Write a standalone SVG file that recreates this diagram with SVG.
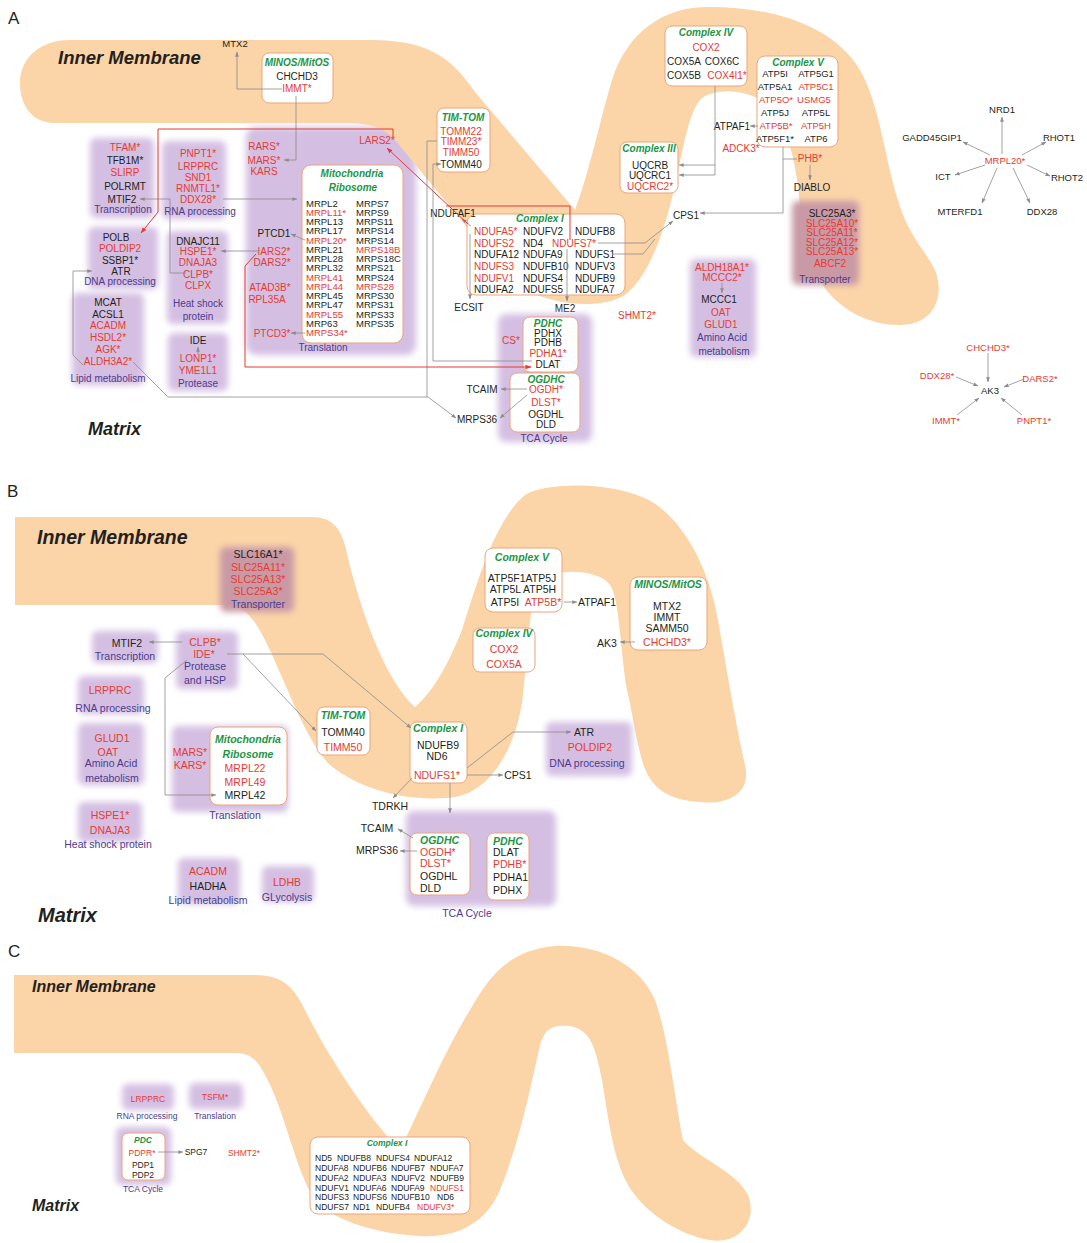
<svg xmlns="http://www.w3.org/2000/svg" width="1087" height="1243" viewBox="0 0 1087 1243">
<style>
text{font-family:"Liberation Sans",Arial,sans-serif;font-size:10px}
.k{fill:#231f20}.r{fill:#e63b33}.p{fill:#4b3c8e}
.g{fill:#1c9645;font-weight:bold;font-style:italic}
.m{text-anchor:middle}
.s9 text,text.s9{font-size:9px}
.s95 text,text.s95{font-size:9.5px}
.s105 text,text.s105{font-size:10.5px}
.s85 text,text.s85{font-size:8.5px}
text.t10{font-size:10px}
text.big{font-weight:bold;font-style:italic;fill:#231f20}
text.lab{font-size:17px;fill:#231f20}
.band{fill:#fbd4a8}
.box{fill:#fff;stroke:#eda57a;stroke-width:1}
.pg{fill:#d4bfe2;filter:url(#bl)}
.tg{fill:#c99aa6;filter:url(#bl)}
.ln{fill:none;stroke:#8c8c8c;stroke-width:0.8;marker-end:url(#ag)}
.ln0{fill:none;stroke:#8c8c8c;stroke-width:0.8}
.rl{fill:none;stroke:#e63b33;stroke-width:1;marker-end:url(#ar)}
.rl0{fill:none;stroke:#e63b33;stroke-width:1}
</style>
<defs>
<filter id="bl" x="-20%" y="-20%" width="140%" height="140%"><feGaussianBlur stdDeviation="3"/></filter>
<marker id="ag" viewBox="0 0 8 8" refX="7.5" refY="4" markerWidth="5" markerHeight="5" markerUnits="userSpaceOnUse" orient="auto"><path d="M0,1 L8,4 L0,7 Z" fill="#8c8c8c"/></marker>
<marker id="ar" viewBox="0 0 8 8" refX="7.5" refY="4" markerWidth="6" markerHeight="6" markerUnits="userSpaceOnUse" orient="auto"><path d="M0,1 L8,4 L0,7 Z" fill="#e63b33"/></marker>
</defs>
<rect width="1087" height="1243" fill="#fff"/>

<!-- ============ PANEL A ============ -->
<g id="a-translation-bg"><rect class="pg" x="246" y="127" width="170" height="228" rx="10"/></g>
<g id="a-membrane"><path class="band" d="M70,40 L370,40 C425,40 450,55 475,92 L575,210 C590,170 600,120 612,80 C628,30 665,8 705,7 C760,6 830,20 860,70 C880,105 885,160 898,200 C908,235 925,250 935,270 C945,295 935,325 900,325 C870,325 845,312 828,292 C810,270 803,240 800,205 C797,170 790,125 765,103 C745,88 712,88 700,100 C688,115 683,150 675,185 C665,230 650,275 625,295 C600,310 555,305 525,290 C500,278 480,245 465,225 L395,140 C385,128 370,123 345,123 L55,123 C30,123 20,103 20,83 C20,58 40,40 70,40 Z"/></g>
<text class="lab" x="8" y="24">A</text>
<text class="big" x="58" y="64" style="font-size:18.5px">Inner Membrane</text>
<text class="big" x="88" y="435" style="font-size:18px">Matrix</text>

<g id="a-transcription">
<rect class="pg" x="90" y="138" width="64" height="80" rx="6"/>
<text class="r m" x="125" y="151">TFAM*</text><text class="k m" x="125" y="164">TFB1M*</text><text class="r m" x="125" y="176">SLIRP</text><text class="k m" x="125" y="189.5">POLRMT</text><text class="k m" x="122" y="202.5">MTIF2</text><text class="p m" x="123" y="213">Transcription</text>
</g>
<g id="a-rna">
<rect class="pg" x="162" y="141" width="64" height="78" rx="6"/>
<text class="r m" x="198" y="156.5">PNPT1*</text><text class="r m" x="198" y="169.5">LRPPRC</text><text class="r m" x="198" y="180.5">SND1</text><text class="r m" x="198" y="191.5">RNMTL1*</text><text class="r m" x="198" y="202.5">DDX28*</text><text class="p m" x="200" y="214.5">RNA processing</text>
</g>
<g id="a-dna">
<rect class="pg" x="88" y="227" width="70" height="62" rx="6"/>
<text class="k m" x="116" y="240.5">POLB</text><text class="r m" x="120" y="251.5">POLDIP2</text><text class="k m" x="120" y="263.5">SSBP1*</text><text class="k m" x="121" y="274.5">ATR</text><text class="p m" x="120" y="285">DNA processing</text>
</g>
<g id="a-hsp">
<rect class="pg" x="167" y="231" width="61" height="93" rx="6"/>
<text class="k m" x="198" y="245">DNAJC11</text><text class="r m" x="198" y="255">HSPE1*</text><text class="r m" x="198" y="266">DNAJA3</text><text class="r m" x="198" y="277.5">CLPB*</text><text class="r m" x="198" y="289">CLPX</text><text class="p m" x="198" y="307">Heat shock</text><text class="p m" x="198" y="320">protein</text>
</g>
<g id="a-lipid">
<rect class="pg" x="72" y="293" width="72" height="92" rx="6"/>
<text class="k m" x="108" y="306">MCAT</text><text class="k m" x="108" y="317.5">ACSL1</text><text class="r m" x="108" y="329">ACADM</text><text class="r m" x="108" y="341">HSDL2*</text><text class="r m" x="108" y="353">AGK*</text><text class="r m" x="108" y="364.5">ALDH3A2*</text><text class="p m" x="108" y="382">Lipid metabolism</text>
</g>
<g id="a-protease">
<rect class="pg" x="168" y="333" width="60" height="58" rx="6"/>
<text class="k m" x="198" y="343.5">IDE</text><text class="r m" x="198" y="362">LONP1*</text><text class="r m" x="198" y="373.5">YME1L1</text><text class="p m" x="198" y="387">Protease</text>
</g>
<g id="a-translation">
<text class="r m" x="264" y="150">RARS*</text><text class="r m" x="264" y="163.5">MARS*</text><text class="r m" x="264" y="175">KARS</text>
<text class="k m" x="274" y="236.5">PTCD1</text><text class="r m" x="274" y="254.5">IARS2*</text><text class="r m" x="272" y="265.5">DARS2*</text><text class="r m" x="270" y="290.5">ATAD3B*</text><text class="r m" x="267" y="302.5">RPL35A</text><text class="r m" x="272" y="336.5">PTCD3*</text>
<text class="r m" x="377" y="143.5">LARS2*</text>
<text class="p m" x="323" y="351">Translation</text>
</g>
<g id="a-ribosome">
<rect class="box" x="302" y="165" width="101" height="178" rx="9"/>
<text class="g m" x="352" y="177">Mitochondria</text><text class="g m" x="353" y="190.5">Ribosome</text>
<g class="s95">
<text class="k" x="306" y="206.6">MRPL2</text><text class="r" x="306" y="215.8">MRPL11*</text><text class="k" x="306" y="225.1">MRPL13</text><text class="k" x="306" y="234.3">MRPL17</text><text class="r" x="306" y="243.6">MRPL20*</text><text class="k" x="306" y="252.8">MRPL21</text><text class="k" x="306" y="262">MRPL28</text><text class="k" x="306" y="271.3">MRPL32</text><text class="r" x="306" y="280.5">MRPL41</text><text class="r" x="306" y="289.8">MRPL44</text><text class="k" x="306" y="299">MRPL45</text><text class="k" x="306" y="308.2">MRPL47</text><text class="r" x="306" y="317.5">MRPL55</text><text class="k" x="306" y="326.7">MRP63</text><text class="r" x="306" y="336">MRPS34*</text>
<text class="k" x="356" y="206.6">MRPS7</text><text class="k" x="356" y="215.8">MRPS9</text><text class="k" x="356" y="225.1">MRPS11</text><text class="k" x="356" y="234.3">MRPS14</text><text class="k" x="356" y="243.6">MRPS14</text><text class="r" x="356" y="252.8">MRPS18B</text><text class="k" x="356" y="262">MRPS18C</text><text class="k" x="356" y="271.3">MRPS21</text><text class="k" x="356" y="280.5">MRPS24</text><text class="r" x="356" y="289.8">MRPS28</text><text class="k" x="356" y="299">MRPS30</text><text class="k" x="356" y="308.2">MRPS31</text><text class="k" x="356" y="317.5">MRPS33</text><text class="k" x="356" y="326.7">MRPS35</text>
</g>
</g>
<g id="a-mtx2"><text class="k m s95" x="235" y="47">MTX2</text></g>
<g id="a-minos">
<rect class="box" x="262" y="53" width="71" height="50" rx="7"/>
<text class="g m" x="297" y="66">MINOS/MitOS</text><text class="k m" x="297" y="80">CHCHD3</text><text class="r m" x="297" y="92">IMMT*</text>
</g>
<g id="a-timtom">
<rect class="box" x="437" y="108" width="53" height="64" rx="7"/>
<text class="g m" x="463" y="121">TIM-TOM</text><text class="r m" x="461" y="135">TOMM22</text><text class="r m" x="461" y="145">TIMM23*</text><text class="r m" x="461" y="155.5">TIMM50</text><text class="k m" x="461" y="167.5">TOMM40</text>
</g>
<g id="a-complex1">
<rect class="box" x="467" y="214" width="158" height="81" rx="9"/>
<text class="g m" x="540" y="221.5">Complex I</text>
<text class="r" x="474" y="235">NDUFA5*</text><text class="k" x="523" y="235">NDUFV2</text><text class="k" x="575" y="235">NDUFB8</text>
<text class="r" x="474" y="246.5">NDUFS2</text><text class="k" x="523" y="246.5">ND4</text><text class="r" x="552" y="246.5">NDUFS7*</text>
<text class="k" x="474" y="257.5">NDUFA12</text><text class="k" x="523" y="257.5">NDUFA9</text><text class="k" x="575" y="257.5">NDUFS1</text>
<text class="r" x="474" y="270">NDUFS3</text><text class="k" x="523" y="270">NDUFB10</text><text class="k" x="575" y="270">NDUFV3</text>
<text class="r" x="474" y="281.5">NDUFV1</text><text class="k" x="523" y="281.5">NDUFS4</text><text class="k" x="575" y="281.5">NDUFB9</text>
<text class="k" x="474" y="292.5">NDUFA2</text><text class="k" x="523" y="292.5">NDUFS5</text><text class="k" x="575" y="292.5">NDUFA7</text>
</g>
<g id="a-ndufaf1"><text class="k m" x="453" y="216.5">NDUFAF1</text></g>
<g id="a-ecsit"><text class="k m" x="469" y="311">ECSIT</text></g>
<g id="a-me2"><text class="k m" x="565" y="312">ME2</text></g>
<g id="a-tca">
<rect class="pg" x="498" y="314" width="94" height="128" rx="8"/>
<rect class="box" x="523" y="317" width="55" height="55" rx="7"/>
<text class="g m" x="548" y="326.5">PDHC</text><text class="k m" x="548" y="336.5">PDHX</text><text class="k m" x="548" y="346">PDHB</text><text class="r m" x="548" y="356.5">PDHA1*</text><text class="k m" x="548" y="368">DLAT</text>
<rect class="box" x="510" y="373" width="70" height="59" rx="7"/>
<text class="g m" x="546" y="382.5">OGDHC</text><text class="r m" x="546" y="392.5">OGDH*</text><text class="r m" x="546" y="406">DLST*</text><text class="k m" x="546" y="417.5">OGDHL</text><text class="k m" x="546" y="428">DLD</text>
<text class="r m" x="511" y="343.5">CS*</text>
<text class="p m" x="544" y="441.5">TCA Cycle</text>
</g>
<g id="a-tcaim"><text class="k m" x="482" y="392.5">TCAIM</text></g>
<g id="a-mrps36"><text class="k m" x="477" y="422.5">MRPS36</text></g>
<g id="a-shmt2"><text class="r m" x="637" y="318.5">SHMT2*</text></g>
<g id="a-aminoacid">
<rect class="pg" x="690" y="259" width="66" height="98" rx="6"/>
<text class="r m" x="722" y="270.5">ALDH18A1*</text><text class="r m" x="722" y="280.5">MCCC2*</text><text class="k m" x="719" y="302.5">MCCC1</text><text class="r m" x="721" y="315.5">OAT</text><text class="r m" x="721" y="327.5">GLUD1</text><text class="p m" x="722" y="340.5">Amino Acid</text><text class="p m" x="724" y="354.5">metabolism</text>
</g>
<g id="a-complex3">
<rect class="box" x="620" y="142" width="58" height="51" rx="7"/>
<text class="g m" x="649" y="152">Complex III</text><text class="k m" x="650" y="168.5">UQCRB</text><text class="k m" x="650" y="178.5">UQCRC1</text><text class="r m" x="650" y="189.5">UQCRC2*</text>
</g>
<g id="a-complex4">
<rect class="box" x="665" y="26" width="82" height="60" rx="7"/>
<text class="g m" x="706" y="35.5">Complex IV</text><text class="r m" x="706" y="50.5">COX2</text>
<text class="k m" x="684" y="64.5">COX5A</text><text class="k m" x="722" y="64.5">COX6C</text>
<text class="k m" x="684" y="78.5">COX5B</text><text class="r m" x="727" y="78.5">COX4I1*</text>
</g>
<g id="a-complex5" class="s95">
<rect class="box" x="757" y="56" width="81" height="91" rx="8"/>
<text class="g m t10" x="798" y="65.5">Complex V</text>
<text class="k m" x="775" y="76.5">ATP5I</text><text class="k m" x="816" y="76.5">ATP5G1</text>
<text class="k m" x="775" y="89.5">ATP5A1</text><text class="r m" x="816" y="89.5">ATP5C1</text>
<text class="r m" x="776" y="102.5">ATP5O*</text><text class="r m" x="814" y="102.5">USMG5</text>
<text class="k m" x="775" y="115.5">ATP5J</text><text class="k m" x="816" y="115.5">ATP5L</text>
<text class="r m" x="776" y="128.5">ATP5B*</text><text class="r m" x="816" y="128.5">ATP5H</text>
<text class="k m" x="775" y="141.5">ATP5F1*</text><text class="k m" x="816" y="141.5">ATP6</text>
</g>
<g id="a-atpaf1"><text class="k m" x="732" y="129.5">ATPAF1</text></g>
<g id="a-adck3"><text class="r m" x="741" y="151.5">ADCK3*</text></g>
<g id="a-phb"><text class="r m" x="810" y="161.5">PHB*</text></g>
<g id="a-diablo"><text class="k m" x="812" y="190.5">DIABLO</text></g>
<g id="a-cps1"><text class="k m" x="686" y="218.5">CPS1</text></g>
<g id="a-transporter">
<rect class="tg" x="792" y="201" width="67" height="84" rx="6"/>
<text class="k m" x="832" y="216.5">SLC25A3*</text><text class="r m" x="832" y="226.5">SLC25A10*</text><text class="r m" x="832" y="236">SLC25A11*</text><text class="r m" x="832" y="245.5">SLC25A12*</text><text class="r m" x="832" y="255">SLC25A13*</text><text class="r m" x="830" y="266.5">ABCF2</text><text class="p m" x="825" y="282.5">Transporter</text>
</g>
<g id="a-mrpl20-star" class="s95">
<text class="r m" x="1005" y="163.5">MRPL20*</text><text class="k m" x="1002" y="112.5">NRD1</text><text class="k m" x="932" y="140.5">GADD45GIP1</text><text class="k m" x="1059" y="140.5">RHOT1</text><text class="k m" x="943" y="179.5">ICT</text><text class="k m" x="1067" y="180.5">RHOT2</text><text class="k m" x="960" y="214.5">MTERFD1</text><text class="k m" x="1042" y="214.5">DDX28</text>
</g>
<g id="a-ak3-star" class="s95">
<text class="k m" x="990" y="393.5">AK3</text><text class="r m" x="988" y="350.5">CHCHD3*</text><text class="r m" x="937" y="378.5">DDX28*</text><text class="r m" x="1040" y="381.5">DARS2*</text><text class="r m" x="946" y="423.5">IMMT*</text><text class="r m" x="1034" y="423.5">PNPT1*</text>
</g>

<!-- ============ PANEL B ============ -->
<g id="b-membrane"><path class="band" d="M15,517 L312,517 C332,517 340,528 345,545 C355,590 380,675 415,707 C435,690 450,660 462,630 C478,580 495,520 525,495 C545,482 620,480 657,505 C690,530 710,575 718,620 C725,660 735,720 745,765 C752,795 725,805 700,802 C670,800 650,790 642,760 C635,735 632,710 627,690 C620,650 620,600 610,585 C598,568 550,568 538,582 C530,600 528,650 523,695 C518,740 495,790 455,797 C410,803 360,790 330,765 C305,740 285,680 265,640 C255,620 245,605 225,605 L15,605 Z"/></g>
<text class="lab" x="7" y="497">B</text>
<text class="big" x="37" y="544" style="font-size:19.5px">Inner Membrane</text>
<text class="big" x="38" y="922" style="font-size:20px">Matrix</text>
<g id="b-transporter" class="s105">
<rect class="tg" x="220" y="547" width="74" height="65" rx="6"/>
<text class="k m" x="258" y="557.5">SLC16A1*</text><text class="r m" x="258" y="570.5">SLC25A11*</text><text class="r m" x="258" y="583">SLC25A13*</text><text class="r m" x="258" y="594.5">SLC25A3*</text><text class="p m" x="258" y="607.5">Transporter</text>
</g>
<g id="b-transcription" class="s105">
<rect class="pg" x="92" y="631" width="66" height="32" rx="6"/>
<text class="k m" x="127" y="646.5">MTIF2</text><text class="p m" x="125" y="660">Transcription</text>
</g>
<g id="b-protease" class="s105">
<rect class="pg" x="176" y="631" width="62" height="58" rx="6"/>
<text class="r m" x="205" y="645.5">CLPB*</text><text class="r m" x="204" y="658">IDE*</text><text class="p m" x="205" y="669.5">Protease</text><text class="p m" x="205" y="684">and HSP</text>
</g>
<g id="b-rna" class="s105">
<rect class="pg" x="78" y="676" width="66" height="38" rx="6"/>
<text class="r m" x="110" y="693.5">LRPPRC</text><text class="p m" x="113" y="712">RNA processing</text>
</g>
<g id="b-aminoacid" class="s105">
<rect class="pg" x="78" y="723" width="66" height="62" rx="6"/>
<text class="r m" x="112" y="741.5">GLUD1</text><text class="r m" x="108" y="755.5">OAT</text><text class="p m" x="111" y="767">Amino Acid</text><text class="p m" x="112" y="781.5">metabolism</text>
</g>
<g id="b-hsp" class="s105">
<rect class="pg" x="78" y="802" width="64" height="40" rx="6"/>
<text class="r m" x="110" y="818.5">HSPE1*</text><text class="r m" x="110" y="833.5">DNAJA3</text><text class="p m" x="108" y="848">Heat shock protein</text>
</g>
<g id="b-translation" class="s105">
<rect class="pg" x="172" y="726" width="116" height="86" rx="6"/>
<rect class="box" x="210" y="727" width="77" height="78" rx="8"/>
<text class="r m" x="190" y="755.5">MARS*</text><text class="r m" x="190" y="768.5">KARS*</text>
<text class="g m" x="248" y="743">Mitochondria</text><text class="g m" x="248" y="758">Ribosome</text>
<text class="r m" x="245" y="771.5">MRPL22</text><text class="r m" x="245" y="785.5">MRPL49</text><text class="k m" x="245" y="798.5">MRPL42</text>
<text class="p m" x="235" y="819">Translation</text>
</g>
<g id="b-lipid" class="s105">
<rect class="pg" x="178" y="858" width="62" height="46" rx="6"/>
<text class="r m" x="208" y="874.5">ACADM</text><text class="k m" x="208" y="889.5">HADHA</text><text class="p m" x="208" y="904">Lipid metabolism</text>
</g>
<g id="b-glycolysis" class="s105">
<rect class="pg" x="262" y="866" width="52" height="36" rx="6"/>
<text class="r m" x="287" y="885.5">LDHB</text><text class="p m" x="287" y="900.5">GLycolysis</text>
</g>
<g id="b-complex5" class="s105">
<rect class="box" x="485" y="548" width="77" height="64" rx="8"/>
<text class="g m" x="522" y="560.5">Complex V</text>
<text class="k m" x="522" y="581.5">ATP5F1ATP5J</text><text class="k m" x="523" y="592.5">ATP5L ATP5H</text>
<text class="k m" x="505" y="605.5">ATP5I</text><text class="r m" x="543" y="605.5">ATP5B*</text>
</g>
<g id="b-atpaf1"><text class="k m s105" x="597" y="605.5">ATPAF1</text></g>
<g id="b-complex4" class="s105">
<rect class="box" x="473" y="628" width="62" height="44" rx="7"/>
<text class="g m" x="504" y="637">Complex IV</text><text class="r m" x="504" y="652.5">COX2</text><text class="r m" x="504" y="667.5">COX5A</text>
</g>
<g id="b-minos" class="s105">
<rect class="box" x="630" y="577" width="77" height="73" rx="8"/>
<text class="g m" x="668" y="588">MINOS/MitOS</text><text class="k m" x="667" y="609.5">MTX2</text><text class="k m" x="667" y="620.5">IMMT</text><text class="k m" x="667" y="632">SAMM50</text><text class="r m" x="667" y="645.5">CHCHD3*</text>
</g>
<g id="b-ak3"><text class="k m s105" x="607" y="646.5">AK3</text></g>
<g id="b-timtom" class="s105">
<rect class="box" x="317" y="707" width="53" height="48" rx="7"/>
<text class="g m" x="343" y="719">TIM-TOM</text><text class="k m" x="343" y="735.5">TOMM40</text><text class="r m" x="343" y="750.5">TIMM50</text>
</g>
<g id="b-complex1" class="s105">
<rect class="box" x="410" y="722" width="57" height="61" rx="7"/>
<text class="g m" x="438" y="732">Complex I</text><text class="k m" x="438" y="748.7">NDUFB9</text><text class="k m" x="437" y="759.7">ND6</text><text class="r m" x="437" y="778.7">NDUFS1*</text>
</g>
<g id="b-dna" class="s105">
<rect class="pg" x="546" y="722" width="86" height="54" rx="6"/>
<text class="k m" x="584" y="736">ATR</text><text class="r m" x="590" y="750.5">POLDIP2</text><text class="p m" x="587" y="766.5">DNA processing</text>
</g>
<g id="b-cps1"><text class="k m s105" x="518" y="778.5">CPS1</text></g>
<g id="b-tdrkh"><text class="k m s105" x="390" y="809.5">TDRKH</text></g>
<g id="b-acot9"><text class="k m s105" x="450" y="825.5">ACOT9</text></g>
<g id="b-tca" class="s105">
<rect class="pg" x="406" y="811" width="150" height="95" rx="8"/>
<rect class="box" x="410" y="833" width="60" height="62" rx="7"/>
<text class="g" x="420" y="844">OGDHC</text><text class="r" x="420" y="855.5">OGDH*</text><text class="r" x="420" y="866.5">DLST*</text><text class="k" x="420" y="879.5">OGDHL</text><text class="k" x="420" y="891.5">DLD</text>
<rect class="box" x="487" y="833" width="42" height="67" rx="7"/>
<text class="g" x="493" y="845">PDHC</text><text class="k" x="493" y="855.5">DLAT</text><text class="r" x="493" y="867.5">PDHB*</text><text class="k" x="493" y="880.5">PDHA1</text><text class="k" x="493" y="893.5">PDHX</text>
<text class="p m" x="467" y="917">TCA Cycle</text>
</g>
<g id="b-tcaim"><text class="k m s105" x="377" y="831.5">TCAIM</text></g>
<g id="b-mrps36"><text class="k m s105" x="377" y="853.5">MRPS36</text></g>

<!-- ============ PANEL C ============ -->
<g id="c-membrane"><path class="band" d="M14,975 L255,975 C285,975 295,990 305,1010 C330,1060 370,1120 400,1150 C420,1110 445,1050 470,1010 C490,975 510,950 555,946 C600,944 640,965 655,1000 C668,1035 675,1100 683,1140 C700,1160 735,1170 748,1195 C758,1220 740,1245 710,1240 C680,1235 650,1215 635,1195 C615,1170 610,1130 602,1080 C595,1045 590,1030 570,1026 C550,1024 545,1030 540,1045 C530,1090 520,1140 500,1190 C485,1225 455,1238 420,1236 C380,1234 335,1222 315,1200 C295,1170 285,1110 265,1075 C258,1060 250,1053 235,1053 L14,1053 Z"/></g>
<text class="lab" x="8" y="957">C</text>
<text class="big" x="32" y="992" style="font-size:16px">Inner Membrane</text>
<text class="big" x="32" y="1211" style="font-size:16px">Matrix</text>
<g id="c-rna" class="s85">
<rect class="pg" x="122" y="1084" width="52" height="26" rx="6"/>
<text class="r m" x="148" y="1102">LRPPRC</text><text class="p m" x="147" y="1119">RNA processing</text>
</g>
<g id="c-translation" class="s85">
<rect class="pg" x="189" y="1083" width="54" height="26" rx="6"/>
<text class="r m" x="215" y="1100">TSFM*</text><text class="p m" x="215" y="1119">Translation</text>
</g>
<g id="c-pdc" class="s85">
<rect class="pg" x="116" y="1127" width="55" height="58" rx="6"/>
<rect class="box" x="122" y="1133" width="43" height="47" rx="6"/>
<text class="g m" x="143" y="1143">PDC</text><text class="r m" x="142" y="1156">PDPR*</text><text class="k m" x="143" y="1168">PDP1</text><text class="k m" x="143" y="1178">PDP2</text>
<text class="p m" x="143" y="1192">TCA Cycle</text>
</g>
<g id="c-spg7"><text class="k m s85" x="196" y="1155">SPG7</text></g>
<g id="c-shmt2"><text class="r m s85" x="244" y="1156">SHMT2*</text></g>
<g id="c-complex1" class="s85">
<rect class="box" x="310" y="1137" width="160" height="77" rx="8"/>
<text class="g m" x="387" y="1145.5">Complex I</text>
<text class="k" x="315" y="1161">ND5</text><text class="k" x="337" y="1161">NDUFB8</text><text class="k" x="376" y="1161">NDUFS4</text><text class="k" x="414" y="1161">NDUFA12</text>
<text class="k" x="315" y="1170.5">NDUFA8</text><text class="k" x="353" y="1170.5">NDUFB6</text><text class="k" x="391" y="1170.5">NDUFB7</text><text class="k" x="430" y="1170.5">NDUFA7</text>
<text class="k" x="315" y="1180.5">NDUFA2</text><text class="k" x="353" y="1180.5">NDUFA3</text><text class="k" x="391" y="1180.5">NDUFV2</text><text class="k" x="430" y="1180.5">NDUFB9</text>
<text class="k" x="315" y="1190.5">NDUFV1</text><text class="k" x="353" y="1190.5">NDUFA6</text><text class="k" x="391" y="1190.5">NDUFA9</text><text class="r" x="430" y="1190.5">NDUFS1</text>
<text class="k" x="315" y="1200">NDUFS3</text><text class="k" x="353" y="1200">NDUFS6</text><text class="k" x="391" y="1200">NDUFB10</text><text class="k" x="437" y="1200">ND6</text>
<text class="k" x="315" y="1209.5">NDUFS7</text><text class="k" x="353" y="1209.5">ND1</text><text class="k" x="376" y="1209.5">NDUFB4</text><text class="r" x="417" y="1209.5">NDUFV3*</text>
</g>

<!-- ============ CONNECTORS ============ -->
<g id="connectors">
<path class="ln" d="M282,89 H237 V52"/>
<path class="ln" d="M296,96 V160 H284"/>
<path class="ln" d="M223,199 H297"/>
<path class="ln" d="M186,273 H170 V199 H140"/>
<path class="ln" d="M259,251 H221"/>
<path class="ln" d="M305,240 L291,234"/>
<path class="ln" d="M305,333 H291"/>
<path class="ln" d="M198,355 V347"/>
<path class="ln" d="M83,365 L73,355 V271 H92"/>
<path class="ln" d="M133,362 L168,397 H428 L456,418"/>
<path class="ln0" d="M437,141 H427 V397"/>
<path class="ln" d="M532,361 H433 V164 H441"/>
<path class="ln" d="M471,226 L462,219"/>
<path class="ln" d="M470,234 V299"/>
<path class="ln" d="M567,249 V301"/>
<path class="ln" d="M598,243 H645 L673,221"/>
<path class="ln0" d="M612,254 H643 L655,239"/>
<path class="ln" d="M783,147 V213 H700"/>
<path class="ln0" d="M783,159 H797"/>
<path class="ln" d="M810,165 V180"/>
<path class="ln" d="M758,126 H750"/>
<path class="ln" d="M715,86 V175 H679"/>
<path class="ln" d="M715,165 H679"/>
<path class="ln" d="M722,283 V293"/>
<path class="ln" d="M527,389 H501"/>
<path class="ln" d="M527,395 L500,418"/>
<path class="ln" d="M1002,154 V117"/>
<path class="ln" d="M990,155 L963,142"/>
<path class="ln" d="M1022,155 L1046,142"/>
<path class="ln" d="M985,165 L955,175"/>
<path class="ln" d="M1027,165 L1050,176"/>
<path class="ln" d="M997,168 L982,203"/>
<path class="ln" d="M1013,168 L1030,203"/>
<path class="ln" d="M988,353 V382"/>
<path class="ln" d="M956,377 L978,386"/>
<path class="ln" d="M1024,379 L1004,387"/>
<path class="ln" d="M957,415 L979,398"/>
<path class="ln" d="M1022,415 L1001,398"/>
<path class="rl" d="M393,137 V129 H158 V212 L141,233"/>
<path class="rl" d="M468,224 L387,148"/>
<path class="rl0" d="M570,240 V206 H446"/>
<path class="rl" d="M256,254 L245,266 V367 H531"/>
<path class="ln" d="M182,642 H149"/>
<path class="ln" d="M227,654 H323 L411,728"/>
<path class="ln" d="M243,654 L316,731"/>
<path class="ln" d="M187,660 L165,678 V795 H216"/>
<path class="ln" d="M564,602 H577"/>
<path class="ln" d="M635,642 H620"/>
<path class="ln" d="M467,768 L513,732 H571"/>
<path class="ln" d="M467,775 H503"/>
<path class="ln" d="M412,778 L393,798"/>
<path class="ln" d="M450,783 V813"/>
<path class="ln" d="M413,838 L398,829"/>
<path class="ln" d="M417,851 H400"/>
<path class="ln" d="M158,1152 H183"/>
</g>
</svg>
